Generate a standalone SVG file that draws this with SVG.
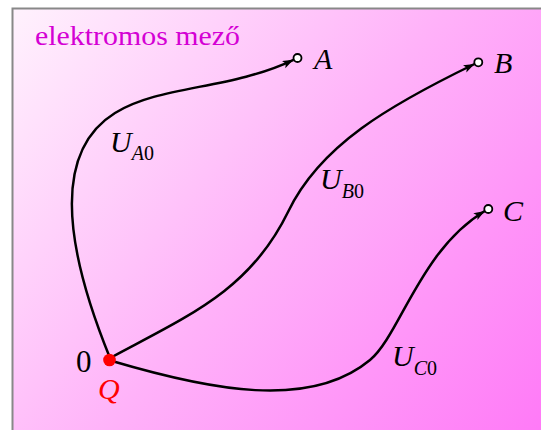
<svg xmlns="http://www.w3.org/2000/svg" width="541" height="430" viewBox="0 0 541 430">
<defs>
<linearGradient id="bg" gradientUnits="userSpaceOnUse" x1="13" y1="8" x2="541" y2="430">
<stop offset="0" stop-color="#fff2fd"/>
<stop offset="0.5" stop-color="#ffb2f9"/>
<stop offset="1" stop-color="#ff7af7"/>
</linearGradient>
<marker id="arr" markerUnits="userSpaceOnUse" markerWidth="12" markerHeight="9" refX="11" refY="4" orient="auto">
<path d="M0,0 L11,4 L0,8 L2.5,4 z" fill="#000"/>
</marker>
<style>
.curve{fill:none;stroke:#000;stroke-width:2.5;marker-end:url(#arr)}
.pt{fill:#fff;stroke:#000;stroke-width:1.8}
.lbl{font-family:"Liberation Serif",serif;font-style:italic;font-size:30px;fill:#000}
.sub{font-size:20px}
.up{font-style:normal}
</style>
</defs>
<rect x="0" y="0" width="541" height="430" fill="#fff"/>
<rect x="12.5" y="8.5" width="540" height="430" fill="url(#bg)" stroke="#888" stroke-width="2"/>
<text x="35" y="45" font-family="Liberation Serif, serif" font-size="28" fill="#d400d4" textLength="205" lengthAdjust="spacingAndGlyphs">elektromos mező</text>
<g id="connectors">
<path class="curve" d="M110,358 C62,240 55,150 115,113 C160,85 230,90 293.5,59.8"/>
<path class="curve" d="M112,357 C190,315 250,290 288,212 C320,145 390,105 474.5,64"/>
<path class="curve" d="M112,361 C210,390 310,410 370,360 C400,335 420,250 484.8,211"/>
</g>
<g id="label-UA0"><text class="lbl" x="110" y="151.5">U<tspan class="sub" dy="8.5">A</tspan><tspan class="sub up">0</tspan></text></g>
<g id="label-UB0"><text class="lbl" x="320" y="189">U<tspan class="sub" dy="8.5">B</tspan><tspan class="sub up">0</tspan></text></g>
<g id="label-UC0"><text class="lbl" x="392" y="366">U<tspan class="sub" dy="8.5">C</tspan><tspan class="sub up">0</tspan></text></g>
<g id="node-A"><circle class="pt" cx="297.5" cy="58" r="4"/><text class="lbl" x="314" y="68.5">A</text></g>
<g id="node-B"><circle class="pt" cx="478.3" cy="62.3" r="4"/><text class="lbl" x="494" y="73">B</text></g>
<g id="node-C"><circle class="pt" cx="488.3" cy="209" r="4"/><text class="lbl" x="503" y="221">C</text></g>
<g id="node-Q">
<circle cx="109.5" cy="360" r="6.3" fill="#ff0000"/>
<text x="76" y="372" font-family="Liberation Serif, serif" font-size="31" fill="#000">0</text>
<text class="lbl" x="98" y="399" style="fill:#ff0000">Q</text>
</g>
</svg>
